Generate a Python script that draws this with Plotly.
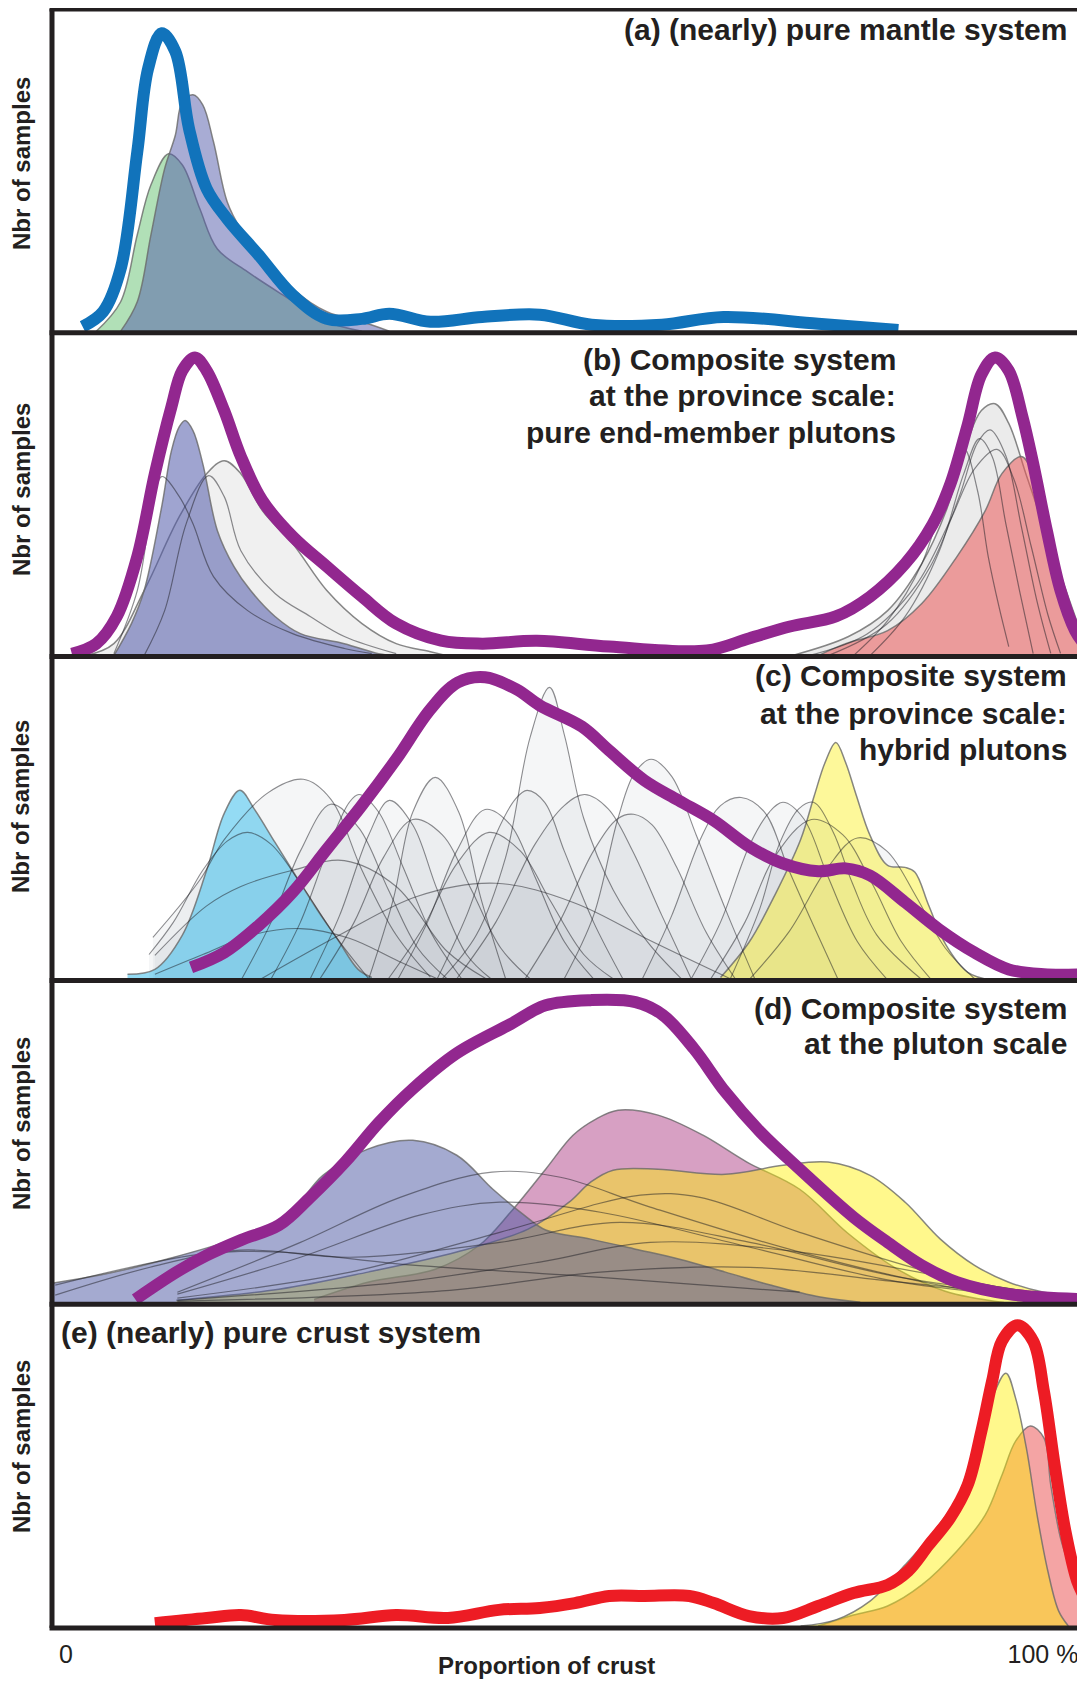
import plotly.graph_objects as go
from plotly.subplots import make_subplots

# x: proportion of crust (%), y: relative number of samples (0-100 inside each panel)

# (a) (nearly) pure mantle system
a_green_x = [3.1, 5.6, 7.3, 8.7, 10.5, 11.9, 13.7, 15.5, 18.6, 22.2, 26.7, 30.3]
a_green_y = [0.5, 9.6, 30.3, 45.7, 55.3, 51.9, 38.3, 25.9, 18.8, 11.7, 3.4, 0.5]
a_purple_x = [5.6, 7.3, 8.7, 10.1, 11.2, 11.9, 13.0, 14.0, 15.1, 16.5, 17.9, 20.1, 23.2, 26.7, 30.3, 33.1]
a_purple_y = [0.5, 9.6, 30.3, 50.7, 61.1, 71.3, 73.5, 70.4, 59.0, 40.5, 32.1, 24.1, 13.6, 6.5, 3.4, 0.5]
a_total_x = [1.7, 3.8, 5.6, 7.3, 8.4, 9.8, 11.2, 12.6, 14.4, 16.5, 19.7, 23.2, 26.7, 30.3,
             33.1, 37.3, 42.6, 48.5, 53.8, 61.0, 67.3, 77.0, 85.2]
a_total_y = [1.9, 6.5, 19.8, 55.9, 81.5, 92.5, 86.8, 63.0, 44.5, 35.2, 24.1, 11.7, 4.3, 4.3,
             5.9, 3.4, 4.9, 5.6, 2.5, 2.5, 4.9, 2.8, 0.9]

# (b) composite system, province scale, pure end-member plutons
b_total_x = [0.6, 3.1, 5.2, 7.3, 9.1, 10.8, 11.9, 13.2, 14.4, 16.2, 17.9, 20.1, 23.2, 26.7, 30.3,
             33.8, 38.4, 42.6, 48.2, 55.6, 65.6, 69.9, 74.1, 78.8, 82.3, 85.9, 88.7, 90.5, 92.3,
             93.7, 95.1, 96.5, 97.9, 99.0, 100.4, 101.8, 103.3, 104.2]
b_total_y = [0.9, 4.0, 12.4, 30.9, 56.5, 77.2, 88.3, 92.4, 88.3, 75.9, 61.8, 48.2, 37.1, 27.8, 18.5,
             10.2, 4.9, 4.0, 4.9, 3.1, 1.9, 5.6, 9.3, 12.4, 18.5, 28.7, 40.8, 53.1, 71.6,
             87.1, 92.4, 88.3, 74.1, 59.6, 38.9, 20.4, 8.0, 4.0]
b_blue_x = [4.9, 6.7, 8.0, 9.8, 10.8, 11.6, 12.2, 13.0, 14.0, 15.5, 17.2, 18.9, 21.4, 24.0, 28.5, 32.0, 33.8]
b_blue_y = [0.3, 10.2, 20.4, 46.3, 63.6, 71.0, 72.9, 69.8, 59.6, 38.9, 27.8, 20.4, 12.4, 7.1, 4.0, 0.9, 0.3]
b_grey_fill_x = [2.0, 4.9, 8.0, 11.6, 14.4, 16.2, 17.9, 20.1, 23.2, 26.7, 30.3, 33.8, 37.3, 39.0]
b_grey_fill_y = [0.3, 4.0, 20.4, 43.2, 56.5, 60.5, 56.5, 45.1, 34.9, 20.4, 10.2, 4.0, 1.5, 0.3]
b_left_lines_x = [
    [4.9, 7.3, 8.75, 9.8, 11.6, 13.0, 15.1, 18.6, 23.2, 28.5, 31.3],
    [8.0, 10.1, 12.3, 14.6, 16.2, 17.9, 21.4, 25.0, 28.5, 33.8],
]
b_left_lines_y = [
    [0.9, 20.4, 45.0, 55.6, 49.4, 41.0, 24.7, 14.2, 7.1, 2.5, 0.9],
    [0.3, 14.2, 41.0, 55.9, 49.4, 32.7, 19.5, 12.4, 6.2, 0.9],
]
b_grey_right_x = [74.3, 80.1, 84.1, 87.6, 90.1, 92.3, 93.7, 95.1, 96.5, 98.3, 100.1, 101.8, 103.3, 104.3]
b_grey_right_y = [0.3, 6.2, 14.2, 28.7, 45.1, 66.7, 76.0, 78.1, 72.0, 56.0, 40.0, 24.0, 11.0, 4.0]
b_red_x = [77.0, 79.8, 84.1, 87.6, 91.2, 94.1, 95.8, 97.8, 99.0, 100.4, 101.8, 103.3, 104.3]
b_red_y = [0.3, 4.0, 8.0, 16.4, 30.9, 45.1, 56.5, 61.8, 56.5, 41.1, 25.6, 12.4, 4.0]
b_right_lines_x = [
    [80.6, 84.1, 87.6, 90.1, 91.9, 93.3, 94.4, 95.5, 96.5],
    [82.3, 85.9, 89.4, 91.9, 93.5, 94.8, 96.2, 97.6, 99.0],
    [78.0, 84.0, 88.5, 91.5, 93.3, 94.6, 96.2, 97.8, 99.4, 100.8],
    [76.0, 82.0, 87.0, 90.5, 93.0, 95.3, 97.0, 98.8, 100.5, 101.8],
]
b_right_lines_y = [
    [0.3, 11.1, 28.7, 51.3, 64.2, 51.3, 30.9, 15.4, 3.1],
    [0.3, 12.4, 32.7, 56.5, 67.3, 61.8, 41.1, 20.4, 0.9],
    [0.3, 10.0, 28.0, 50.0, 66.0, 70.0, 62.0, 40.0, 17.0, 1.0],
    [0.3, 7.0, 22.0, 42.0, 58.0, 64.0, 55.0, 34.0, 13.0, 1.0],
]

# (c) composite system, province scale, hybrid plutons
c_total_x = [12.8, 16.2, 19.7, 23.2, 26.7, 30.3, 33.8, 37.3, 40.1, 42.9, 46.1, 48.5, 52.8, 55.6,
             59.2, 62.7, 66.3, 69.9, 73.4, 77.0, 79.8, 82.3, 85.9, 89.4, 93.0, 96.5, 100.1, 104.3]
c_total_y = [4.0, 8.6, 16.9, 27.2, 40.5, 54.1, 68.3, 83.7, 92.0, 93.6, 89.9, 84.9, 78.4, 71.0,
             61.8, 55.6, 49.4, 41.4, 36.1, 33.7, 34.6, 32.4, 24.1, 15.7, 8.6, 3.4, 1.9, 1.9]
c_blue_x = [6.3, 9.1, 11.9, 14.4, 16.2, 17.8, 19.3, 21.4, 23.5, 25.7, 27.8, 29.9, 31.3]
c_blue_y = [1.9, 3.4, 13.9, 34.0, 51.6, 58.7, 52.8, 42.6, 32.4, 21.9, 12.7, 3.4, 0.9]
c_yellow_x = [67.0, 69.9, 72.7, 75.2, 76.6, 77.7, 78.8, 79.8, 80.9, 82.3, 84.1, 85.9, 86.9,
              88.3, 90.1, 92.3, 94.8]
c_yellow_y = [0.9, 11.7, 27.2, 43.5, 57.1, 67.3, 73.5, 67.3, 57.1, 44.8, 35.5, 34.9, 33.4,
              23.2, 10.8, 2.5, 0.0]
c_grey_x = [
    [8.9, 13.7, 16.2, 20.7, 24.3, 27.1, 30.3, 33.8, 37.3],
    [31, 33.5, 35.5, 37.8, 40.2, 42.5, 45],
    [38.5, 42, 45, 47.5, 49.5, 51, 53, 56, 59.5, 63],
    [51, 54, 56.5, 58.2, 59.9, 62, 64.5, 67.5, 70.5],
    [59, 62, 65, 67, 69.1, 71.5, 74, 76.5, 79],
    [68, 71, 73, 75, 76.5, 78.5, 80.5, 83, 87.5],
    [40, 44, 48, 51, 53.1, 55.5, 58, 61, 64],
    [47, 50.5, 54, 56.5, 58.1, 60, 62.5, 65.5, 68.5],
    [21, 24, 27, 29, 30, 32, 34.5, 37.5, 40.5],
    [25, 28, 31, 33.1, 35.5, 38, 41, 43.5],
    [38, 41, 44, 46, 47.2, 49, 51, 54, 57],
    [8.5, 11, 14, 16.5, 18.6, 21, 24, 27.5, 31],
    [33, 36.5, 40, 43.3, 46.5, 49.5, 53, 56],
    [34, 37, 40, 42.9, 45.5, 48, 51, 54],
    [9.1, 14.4, 17.9, 23.2, 28.5, 33.8, 39, 43],
    [9.1, 14, 19, 24, 29, 34, 38],
    [18, 21, 24, 27.1, 30, 33, 36, 39],
    [26, 29.5, 32.5, 35.5, 38.5, 41.5, 44.5, 47.5],
    [64, 67, 70, 72, 73.4, 75.5, 78, 81, 84],
    [66, 69.5, 72.5, 76.3, 79.5, 82.5, 85.5, 88.5],
    [20, 28, 36, 44, 52, 60, 68],
    [70, 74, 78, 81, 84, 87, 90, 93],
]
c_grey_y = [
    [13.3, 31, 43.5, 58, 62.1, 56, 34, 14, 1],
    [0.5, 25, 52, 62.7, 52, 25, 0.5],
    [0.5, 14, 38, 75, 90.5, 76, 50, 28, 12, 0.5],
    [0.5, 20, 50, 64, 68.3, 63, 45, 22, 0.5],
    [0.5, 20, 44, 54, 56.5, 52, 34, 17, 0.5],
    [0.5, 22, 42, 53, 55, 46, 30, 14, 0.5],
    [0.5, 18, 42, 54, 57.4, 53, 40, 20, 0.5],
    [0.5, 18, 40, 50, 51.3, 48, 35, 15, 0.5],
    [0.5, 18, 42, 55, 57.4, 52, 35, 14, 0.5],
    [0.5, 20, 45, 55.6, 48, 28, 8, 0.5],
    [0.5, 20, 45, 56, 58.7, 55, 40, 18, 0.5],
    [8, 18, 34, 43, 45.7, 42, 30, 14, 0.5],
    [0.5, 16, 36, 45.7, 40, 25, 8, 0.5],
    [0.5, 18, 40, 52.8, 48, 32, 12, 0.5],
    [7.7, 23, 29, 34, 37, 29, 9, 0.5],
    [1.9, 8, 14, 16, 13, 6, 0.5],
    [0.5, 18, 40, 54.4, 47, 28, 10, 0.5],
    [0.5, 18, 38, 49.7, 45, 28, 10, 0.5],
    [0.5, 18, 42, 52, 55, 50, 32, 12, 0.5],
    [0.5, 18, 38, 49.7, 45, 30, 12, 0.5],
    [0.5, 14, 26, 30, 24, 12, 0.5],
    [0.5, 15, 35, 44, 40, 26, 10, 0.5],
]

# (d) composite system, pluton scale
d_total_x = [7.1, 11.3, 14.4, 17.9, 21.8, 25.0, 28.6, 32.0, 35.5, 40.0, 45.5, 49.1, 53.7, 58.3,
             61.1, 64.3, 67.5, 71.1, 75.1, 80.6, 84.1, 87.6, 91.2, 96.5, 104.3]
d_total_y = [1.5, 9.9, 15.1, 19.8, 24.4, 33.0, 44.0, 56.0, 66.5, 77.5, 86.5, 92.3, 93.9, 93.3,
             89.3, 78.8, 65.5, 53.1, 41.7, 26.9, 19.1, 12.0, 6.8, 3.1, 1.5]
d_blue_x = [-1.43, 3.5, 10.3, 17.2, 22.7, 26.3, 30.9, 35.5, 40.0, 43.7, 46.9, 49.1, 53.7, 58.3,
            62.8, 67.5, 72.1, 77.2, 81.3]
d_blue_y = [6.5, 9.0, 13.9, 20.1, 27.5, 39.8, 47.9, 50.6, 46.0, 35.5, 27.5, 22.9, 20.1, 17.0,
            13.9, 9.9, 5.9, 2.2, 0.6]
d_pink_x = [25.4, 30.9, 37.8, 42.3, 45.5, 49.1, 51.9, 54.2, 56.5, 60.6, 65.2, 69.7, 75.1, 80.0,
            85.0, 90.0, 96.0]
d_pink_y = [1.5, 6.8, 10.8, 18.2, 28.4, 41.7, 52.2, 57.1, 59.9, 58.4, 52.2, 43.9, 35.5, 22.0,
            11.0, 4.0, 0.5]
d_yellow_x = [11.3, 21.8, 30.9, 40.0, 47.3, 51.5, 53.7, 56.0, 60.6, 67.5, 73.4, 78.0, 82.3, 85.9,
              89.5, 93.0, 96.5, 100.1, 104.3]
d_yellow_y = [1.2, 4.6, 9.9, 16.1, 23.2, 31.5, 37.7, 41.4, 41.7, 40.1, 42.9, 43.9, 39.8, 31.5,
              20.1, 12.0, 6.8, 3.7, 2.2]
d_lines_x = [
    [11.4, 24.0, 34.2, 43.6, 50.6, 59.8, 75.1, 90.5, 103.8],
    [11.4, 24.0, 36.2, 44.4, 54.7, 70.0, 85.4, 103.8],
    [-1.1, 8.6, 17.8, 29.1, 44.4, 56.7, 70.0, 85.4, 103.8],
    [11.4, 29.1, 44.4, 58.8, 64.9, 75.1, 90.5, 103.8],
    [11.4, 34.2, 48.5, 59.8, 75.1, 95.6, 103.8],
    [11.4, 39.3, 54.7, 70.0, 85.4, 103.8],
    [-1.1, 13.7, 21.9, 34.2, 54.7, 75.1],
]
d_lines_y = [
    [3.7, 19.1, 33.0, 40.8, 39.2, 30.0, 16.1, 5.3, 1.2],
    [3.1, 14.5, 27.5, 31.5, 28.4, 17.6, 6.8, 1.2],
    [2.8, 11.4, 16.7, 14.5, 19.1, 25.3, 19.1, 8.3, 1.5],
    [1.9, 9.9, 22.2, 33.7, 33.0, 22.2, 8.3, 1.5],
    [1.2, 6.8, 13.0, 19.1, 16.1, 5.3, 1.9],
    [0.9, 4.3, 9.9, 11.4, 6.8, 1.2],
    [5.9, 15.4, 16.1, 12.4, 8.3, 3.7],
]

# (e) (nearly) pure crust system
e_total_x = [9.1, 14.4, 17.9, 21.4, 28.5, 33.8, 39.1, 44.3, 48.5, 52.1, 55.6, 59.2, 63.8, 66.3,
             69.9, 73.4, 77.0, 80.6, 84.1, 86.2, 88.3, 90.5, 92.3, 93.7, 94.8, 95.8, 97.4, 99.0,
             100.1, 101.2, 102.3, 103.5, 104.3]
e_total_y = [1.5, 3.1, 4.0, 2.5, 2.5, 4.0, 3.1, 5.6, 6.2, 7.7, 9.9, 9.9, 9.9, 7.7,
             3.7, 3.1, 6.8, 10.8, 13.3, 17.6, 25.6, 34.0, 44.2, 60.8, 76.3, 88.6, 93.5, 88.6,
             73.1, 50.3, 29.9, 14.5, 9.3]
e_yellow_x = [75.2, 78.8, 82.3, 85.9, 88.3, 91.2, 93.0, 94.4, 96.2, 97.2, 98.3, 99.4, 100.5, 101.6, 102.6]
e_yellow_y = [0.6, 2.5, 8.3, 19.5, 27.8, 40.1, 55.6, 67.9, 78.7, 71.0, 55.6, 34.9, 17.6, 5.3, 0.6]
e_pink_x = [77.0, 80.6, 84.1, 87.6, 91.2, 94.1, 95.8, 97.2, 98.7, 100.1, 100.8, 101.8, 102.9, 104.3]
e_pink_y = [0.6, 4.0, 6.8, 13.3, 23.8, 34.9, 47.2, 57.7, 62.4, 58.7, 44.2, 27.8, 17.6, 7.1]

x_ticks = [0, 100]
x_ticktext = ['0', '100 %']

DARK = '#231f20'
OUTLINE = 'rgba(105,105,105,0.8)'
THIN = 'rgba(30,30,35,0.5)'
FONT = 'Liberation Sans, Arial, Helvetica, sans-serif'


def fill_trace(x, y, color, outline=OUTLINE, width=1.5):
    return go.Scatter(x=x, y=y, mode='lines', fill='tozeroy', fillcolor=color,
                      line=dict(color=outline, width=width, shape='spline'),
                      hoverinfo='skip', showlegend=False)


def line_trace(x, y, color, width):
    return go.Scatter(x=x, y=y, mode='lines',
                      line=dict(color=color, width=width, shape='spline'),
                      hoverinfo='skip', showlegend=False)


fig = make_subplots(rows=5, cols=1, vertical_spacing=0)

# (a)
fig.add_trace(fill_trace(a_green_x, a_green_y, 'rgba(99,193,111,0.5)'), row=1, col=1)
fig.add_trace(fill_trace(a_purple_x, a_purple_y, 'rgba(81,89,169,0.5)'), row=1, col=1)
fig.add_trace(line_trace(a_total_x, a_total_y, '#1173bb', 12), row=1, col=1)

# (b)
fig.add_trace(fill_trace(b_grey_fill_x, b_grey_fill_y, 'rgba(205,205,205,0.3)'), row=2, col=1)
fig.add_trace(fill_trace(b_blue_x, b_blue_y, 'rgba(81,89,169,0.55)'), row=2, col=1)
for xs, ys in zip(b_left_lines_x, b_left_lines_y):
    fig.add_trace(line_trace(xs, ys, THIN, 1.2), row=2, col=1)
fig.add_trace(fill_trace(b_grey_right_x, b_grey_right_y, 'rgba(205,205,205,0.4)'), row=2, col=1)
fig.add_trace(fill_trace(b_red_x, b_red_y, 'rgba(235,90,90,0.55)'), row=2, col=1)
for xs, ys in zip(b_right_lines_x, b_right_lines_y):
    fig.add_trace(line_trace(xs, ys, THIN, 1.2), row=2, col=1)
fig.add_trace(line_trace(b_total_x, b_total_y, '#92278f', 12), row=2, col=1)

# (c)
for xs, ys in zip(c_grey_x, c_grey_y):
    fig.add_trace(fill_trace(xs, ys, 'rgba(190,192,198,0.15)', outline='rgba(0,0,0,0)', width=0),
                  row=3, col=1)
fig.add_trace(fill_trace(c_blue_x, c_blue_y, 'rgba(60,190,235,0.55)'), row=3, col=1)
fig.add_trace(fill_trace(c_yellow_x, c_yellow_y, 'rgba(250,240,30,0.45)'), row=3, col=1)
for xs, ys in zip(c_grey_x, c_grey_y):
    fig.add_trace(line_trace(xs, ys, THIN, 1.1), row=3, col=1)
fig.add_trace(line_trace(c_total_x, c_total_y, '#92278f', 12), row=3, col=1)

# (d)
fig.add_trace(fill_trace(d_pink_x, d_pink_y, 'rgba(175,65,135,0.5)'), row=4, col=1)
fig.add_trace(fill_trace(d_yellow_x, d_yellow_y, 'rgba(255,240,0,0.45)'), row=4, col=1)
fig.add_trace(fill_trace(d_blue_x, d_blue_y, 'rgba(73,85,161,0.5)'), row=4, col=1)
for xs, ys in zip(d_lines_x, d_lines_y):
    fig.add_trace(line_trace(xs, ys, THIN, 1.2), row=4, col=1)
fig.add_trace(line_trace(d_total_x, d_total_y, '#92278f', 12), row=4, col=1)

# (e)
fig.add_trace(fill_trace(e_pink_x, e_pink_y, 'rgba(235,90,90,0.55)'), row=5, col=1)
fig.add_trace(fill_trace(e_yellow_x, e_yellow_y, 'rgba(255,240,0,0.45)'), row=5, col=1)
fig.add_trace(line_trace(e_total_x, e_total_y, '#ed1c24', 12), row=5, col=1)

fig.update_xaxes(range=[-1.43, 104.1], showgrid=False, zeroline=False, showline=False,
                 showticklabels=False, ticks='', fixedrange=True)
fig.update_yaxes(range=[0, 100], showgrid=False, zeroline=False, showline=False,
                 showticklabels=False, ticks='', fixedrange=True)
fig.update_xaxes(row=5, col=1, showticklabels=True, tickmode='array', tickvals=x_ticks,
                 ticktext=x_ticktext, tickfont=dict(family=FONT, size=25, color=DARK),
                 ticklabelstandoff=9)


# the page body adds an 8 px margin: positions below are page pixels of the plot area
def px_x(px):
    return (px - 52) / 1031


def px_y(py):
    return (1628 - py) / 1619


annotations = []
title_font = dict(family=FONT, size=30, color=DARK)


def title(text, px, py, anchor='right'):
    annotations.append(dict(text='<b>%s</b>' % text, x=px_x(px), y=px_y(py), xref='paper',
                            yref='paper', xanchor=anchor, yanchor='middle', showarrow=False,
                            font=title_font))


title('(a) (nearly) pure mantle system', 1069, 30)
title('(b) Composite system', 898, 359)
title('at the province scale:', 898, 395)
title('pure end-member plutons', 898, 432)
title('(c) Composite system', 1069, 676)
title('at the province scale:', 1069, 713)
title('hybrid plutons', 1069, 749)
title('(d) Composite system', 1069, 1008)
title('at the pluton scale', 1069, 1043)
title('(e) (nearly) pure crust system', 59, 1332, anchor='left')

for py in [164, 490, 807, 1124, 1447]:
    annotations.append(dict(text='<b>Nbr of samples</b>', x=px_x(21), y=px_y(py), xref='paper',
                            yref='paper', xanchor='center', yanchor='middle', textangle=-90,
                            showarrow=False, font=dict(family=FONT, size=24, color=DARK)))

annotations.append(dict(text='<b>Proportion of crust</b>', x=px_x(546), y=px_y(1665), xref='paper',
                        yref='paper', xanchor='center', yanchor='middle', showarrow=False,
                        font=dict(family=FONT, size=24, color=DARK)))

# panel frames
shapes = [dict(type='line', xref='paper', yref='paper', x0=0, x1=0, y0=0, y1=1,
               line=dict(color=DARK, width=5), layer='above'),
          dict(type='line', xref='paper', yref='paper', x0=1, x1=1, y0=0, y1=1,
               line=dict(color=DARK, width=2), layer='above')]
for k in range(6):
    shapes.append(dict(type='line', xref='paper', yref='paper', x0=-0.0024, x1=1, y0=k / 5, y1=k / 5,
                       line=dict(color=DARK, width=5), layer='above'))

fig.update_layout(width=1077, height=1674, margin=dict(l=44, r=2, t=1, b=54),
                  paper_bgcolor='white', plot_bgcolor='white', showlegend=False,
                  font=dict(family=FONT, color=DARK), annotations=annotations, shapes=shapes)

fig.write_html("out.html")
